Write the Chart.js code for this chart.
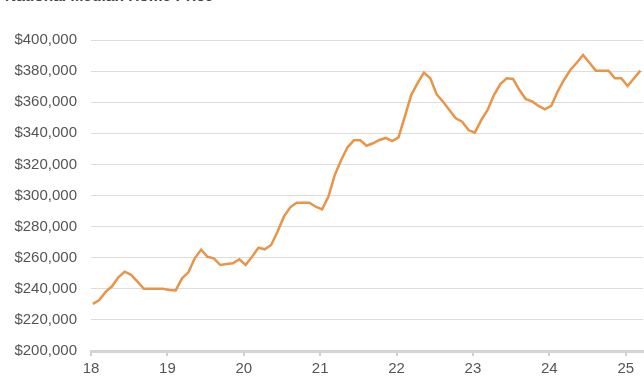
<!DOCTYPE html>
<html lang="en">
<head>
    <meta charset="UTF-8">
    <title>National Median Home Price</title>
    <script src="https://cdn.jsdelivr.net/npm/chart.js"></script>
    <style>
        html, body {
            margin: 0;
            padding: 0;
            background: #ffffff;
            overflow: hidden;
        }
        .wrap {
            position: relative;
            width: 644px;
            height: 392px;
        }
        .title {
            position: absolute;
            left: 5px;
            top: -13px;
            font-family: Arial, "Liberation Sans", sans-serif;
            font-weight: bold;
            font-size: 15.5px;
            color: #444;
            white-space: nowrap;
        }
        canvas {
            position: absolute;
            left: 0;
            top: 0;
        }
    </style>
</head>
<body>
<div class="wrap">
    <div class="title">National Median Home Price</div>
    <canvas id="priceChart" width="644" height="392"></canvas>
</div>

<script>
    // monthly median price, Jan 2018 .. Mar 2025
    const firstYear = 18;
    const prices = [
        230300, 232800, 238000, 241600, 247400, 251000, 249000, 244600, 240000, 240000, 240000, 240000,
        239200, 239000, 246700, 250600, 259600, 265200, 260600, 259600, 255300, 256000, 256400, 259000,
        255300, 260600, 266400, 265400, 268200, 276700, 286400, 292400, 295400, 295400, 295400, 292800,
        291100, 299300, 313200, 322800, 331000, 335500, 335500, 332000, 333600, 335700, 337000, 335000,
        337400, 350700, 364600, 372200, 379000, 375400, 365000, 360300, 355000, 349600, 347500, 342100,
        340400, 348500, 355000, 364600, 371700, 375400, 374900, 367800, 362000, 360500, 357600, 355400,
        357600, 366800, 374300, 380700, 385400, 390400, 385400, 380300, 380300, 380300, 375400, 375400,
        370400, 375400, 380300
    ];
    const yearTicks = [18, 19, 20, 21, 22, 23, 24, 25];
    const priceMin = 200000;
    const priceMax = 400000;
    const priceStep = 20000;

    const points = prices.map((p, i) => ({ x: firstYear + (i + 0.3) / 12, y: p }));

    const labelFont = { family: 'Arial, "Liberation Sans", sans-serif', size: 15 };

    const ctx = document.getElementById('priceChart').getContext('2d');
    new Chart(ctx, {
        type: 'line',
        data: {
            datasets: [{
                label: 'Median price',
                data: points,
                borderColor: '#E8954A',
                borderWidth: 2.5,
                pointRadius: 0,
                tension: 0,
                fill: false
            }]
        },
        options: {
            responsive: false,
            animation: false,
            layout: { padding: { top: 40, right: 1, left: 0, bottom: 0 } },
            plugins: {
                legend: { display: false },
                tooltip: { enabled: false }
            },
            scales: {
                x: {
                    type: 'linear',
                    min: 18,
                    max: 25.226,
                    afterBuildTicks: axis => {
                        axis.ticks = yearTicks.map(v => ({ value: v }));
                    },
                    afterFit: axis => { axis.height = 41; },
                    ticks: {
                        includeBounds: false,
                        color: '#555',
                        font: labelFont,
                        padding: 4,
                        maxRotation: 0,
                        callback: v => String(v)
                    },
                    grid: {
                        drawOnChartArea: false,
                        drawTicks: true,
                        tickLength: 5,
                        color: '#cfcfcf',
                        lineWidth: 2
                    },
                    border: { color: '#d4d4d4', width: 3 }
                },
                y: {
                    min: priceMin,
                    max: priceMax,
                    afterFit: axis => { axis.width = 91; },
                    ticks: {
                        stepSize: priceStep,
                        color: '#555',
                        font: labelFont,
                        padding: 14,
                        callback: v => '$' + Number(v).toLocaleString('en-US')
                    },
                    grid: {
                        drawTicks: false,
                        color: '#dddddd',
                        lineWidth: 1
                    },
                    border: { display: false }
                }
            }
        }
    });
</script>
</body>
</html>
